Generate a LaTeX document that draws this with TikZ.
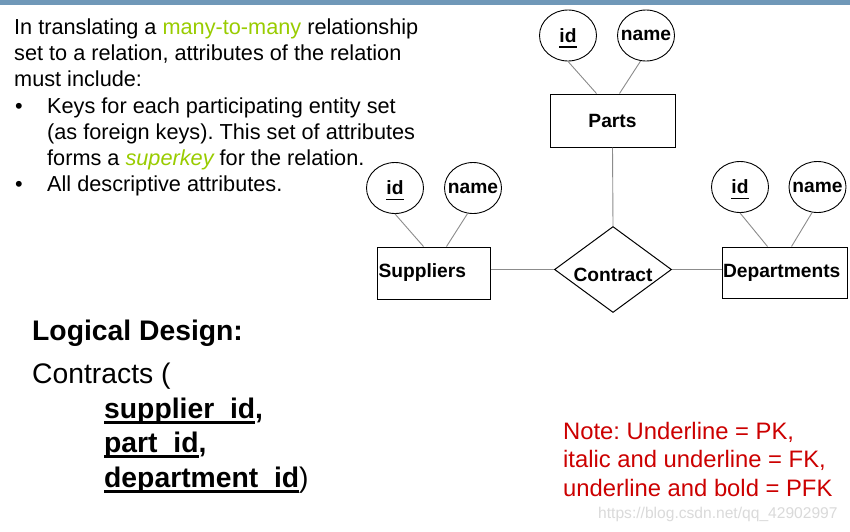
\documentclass[tikz,border=0pt]{standalone}
\usepackage{fontspec}
\setmainfont{Liberation Sans}
\usetikzlibrary{shapes.geometric}
\frenchspacing
\definecolor{barblue}{HTML}{7098B8}
\definecolor{lgreen}{HTML}{99CC00}
\definecolor{notered}{HTML}{CC0000}
\definecolor{wmgray}{HTML}{DADADA}
\definecolor{linegray}{HTML}{8C8C8C}
\newcommand{\thickul}[1]{\setbox0=\hbox{#1}\rlap{\raisebox{-6pt}[0pt][0pt]{\rule{\wd0}{2.8pt}}}\box0}
\newcommand{\idul}[1]{\setbox0=\hbox{#1}\rlap{\raisebox{-5.5pt}[0pt][0pt]{\rule{\wd0}{1.5pt}}}\box0}
\newcommand{\usgap}{\phantom{\_}}
\begin{document}
\begin{tikzpicture}[x=1pt,y=-1pt,
  body/.style={anchor=base west, inner sep=0pt, font=\fontsize{21.7}{26}\selectfont},
  big/.style={anchor=base west, inner sep=0pt, font=\fontsize{28.3}{34}\selectfont},
  note/.style={anchor=base west, inner sep=0pt, text=notered, font=\fontsize{23.8}{29}\selectfont},
  attr/.style={ellipse, draw, line width=0.9pt, minimum width=57pt, minimum height=51pt, inner sep=0pt},
  ent/.style={rectangle, draw, line width=1pt, inner sep=0pt, font=\fontsize{19.2}{22}\selectfont\bfseries},
  rel/.style={diamond, draw, line width=1pt, minimum width=117pt, minimum height=86pt, inner sep=0pt},
  lab/.style={inner sep=0pt, font=\fontsize{19.2}{22}\selectfont\bfseries},
  conn/.style={draw=linegray, line width=0.9pt}]
\useasboundingbox (0,0) rectangle (850,531);
\fill[white] (0,0) rectangle (850,531);
\fill[barblue] (0,0) rectangle (850,5);

% intro text
\node[body] (t1) at (14,34) {In translating a \textcolor{lgreen}{many-to-many} relationship};
\node[body] (t2) at (14,60) {set to a relation, attributes of the relation};
\node[body] (t3) at (14,86) {must include:};
\node[body] (b1) at (15,113) {\textbullet};
\node[body] (t4) at (47,113) {Keys for each participating entity set};
\node[body] (t5) at (47,139) {(as foreign keys). This set of attributes};
\node[body] (t6) at (47,165) {forms a \textcolor{lgreen}{\itshape superkey} for the relation.};
\node[body] (b2) at (15,191) {\textbullet};
\node[body] (t7) at (47,191) {All descriptive attributes.};

% ER diagram
\node[attr] (pid) at (568,35.5) {};
\node[lab] (pidt) at (pid) {\idul{id}};
\node[attr] (pname) at (646,35.5) {};
\node[lab] (pnamet) at (pname) {name};
\node[ent, minimum width=125pt, minimum height=53pt] (parts) at (612.5,120.5) {Parts\hspace{6pt}};

\node[attr] (sid) at (395,188) {};
\node[lab] (sidt) at (sid) {\idul{id}};
\node[attr] (sname) at (473,188) {};
\node[lab] (snamet) at (sname) {name};
\node[ent, minimum height=52pt, text width=110pt, inner xsep=1.5pt, align=left] (sup) at (433.5,273) {Suppliers};

\node[attr] (did) at (740,187) {};
\node[lab] (didt) at (did) {\idul{id}};
\node[attr] (dname) at (817.5,187) {};
\node[lab] (dnamet) at (dname) {name};
\node[ent, minimum height=51pt, text width=123pt, inner xsep=1pt, align=left] (dep) at (784.5,272.5) {Departments};

\node[rel] (con) at (613,269.5) {};
\node[lab, yshift=-5pt] (cont) at (con) {Contract};

\path[conn] (pid.south) -- ([xshift=-16pt]parts.north);
\path[conn] (pname.258) -- ([xshift=7pt]parts.north);
\path[conn] (sid.south) -- ([xshift=-10pt]sup.north);
\path[conn] (sname.258) -- ([xshift=13pt]sup.north);
\path[conn] (did.south) -- ([xshift=-17pt]dep.north);
\path[conn] (dname.258) -- ([xshift=7pt]dep.north);
\path[conn] (parts.south) -- (con.north);
\path[conn] (con.west -| sup.east) -- (con.west);
\path[conn] (con.east) -- (con.east -| dep.west);

% logical design
\node[big, font=\fontsize{28.3}{34}\selectfont\bfseries] (ld) at (32,340) {Logical Design:};
\node[big] (ct) at (32,383) {Contracts (};
\node[big] (k1) at (104,418) {\bfseries\thickul{supplier\usgap id},};
\node[big] (k2) at (104,452) {\bfseries\thickul{part\usgap id},};
\node[big] (k3) at (104,487) {\textbf{\thickul{department\usgap id}})};

% note
\node[note] (n1) at (563,439) {Note: Underline = PK,};
\node[note] (n2) at (563,467.5) {italic and underline = FK,};
\node[note] (n3) at (563,496) {underline and bold = PFK};

\node[anchor=base west, inner sep=0pt, text=wmgray, font=\fontsize{15.6}{18}\selectfont] (wm) at (598,518) {https://blog.csdn.net/qq\_42902997};
\end{tikzpicture}
\end{document}
